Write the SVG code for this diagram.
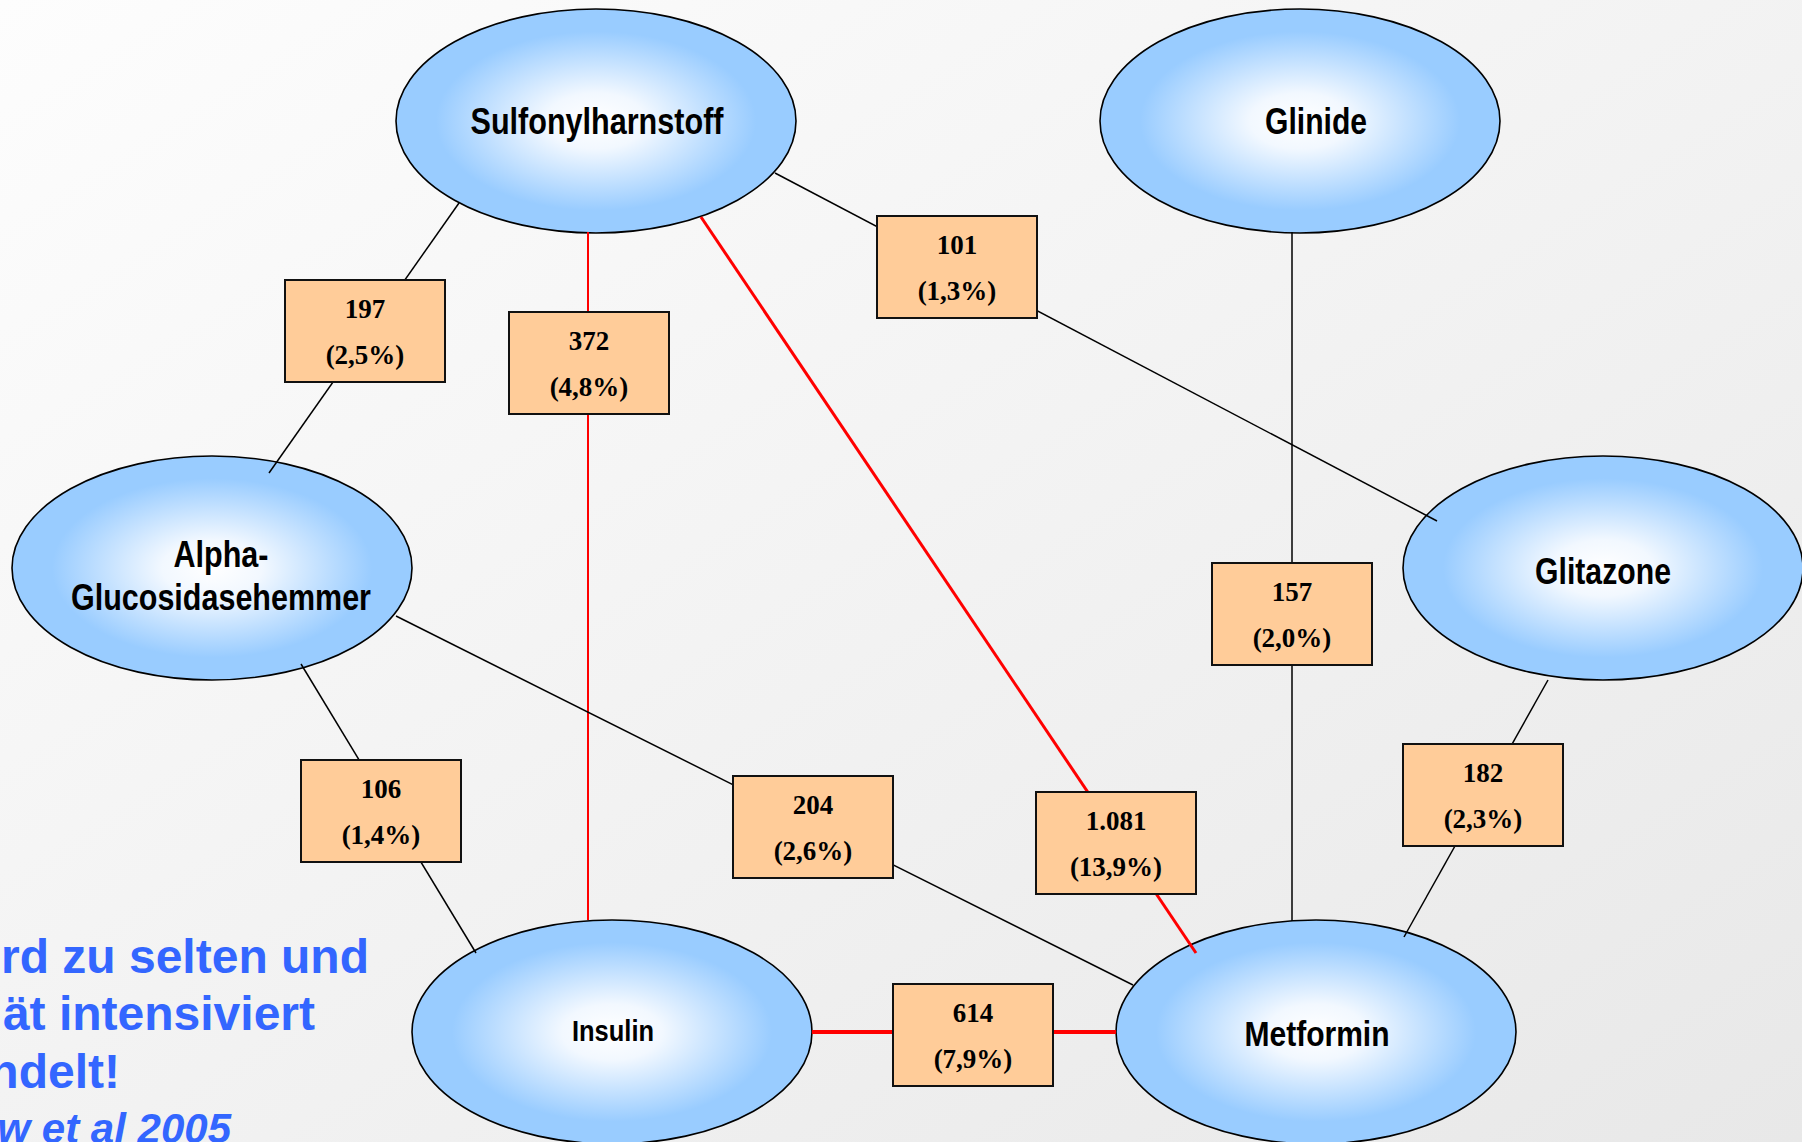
<svg xmlns="http://www.w3.org/2000/svg" width="1802" height="1142" viewBox="0 0 1802 1142">
<defs>
<linearGradient id="bg" x1="0" y1="0" x2="1" y2="1">
<stop offset="0" stop-color="#FDFDFD"/>
<stop offset="1" stop-color="#E8E8E8"/>
</linearGradient>
<radialGradient id="blob" cx="0.5" cy="0.5" r="0.5">
<stop offset="0" stop-color="#FFFFFF"/>
<stop offset="0.25" stop-color="#F2F8FF"/>
<stop offset="0.8" stop-color="#99CCFF"/>
<stop offset="1" stop-color="#99CCFF"/>
</radialGradient>
<style>
.node ellipse{fill:url(#blob);stroke:#000;stroke-width:1.6}
.lbl{font-family:"Liberation Sans",Arial,sans-serif;font-weight:bold;font-size:36px;fill:#000;text-anchor:middle}
.box rect{fill:#FFCC99;stroke:#111;stroke-width:2}
.num{font-family:"Liberation Serif","Times New Roman",serif;font-weight:bold;font-size:27px;fill:#000;text-anchor:middle}
.blk{stroke:#000;stroke-width:1.5;fill:none}
.red{stroke:#FF0000;fill:none}
.note{font-family:"Liberation Sans",Arial,sans-serif;font-weight:bold;font-size:48px;fill:#3366FF;text-anchor:end}
</style>
</defs>
<rect x="0" y="0" width="1802" height="1142" fill="url(#bg)"/>
<g id="node-sulfonylharnstoff" class="node">
<ellipse cx="596" cy="121" rx="200" ry="112"/>
<text class="lbl" x="597" y="134" textLength="253" lengthAdjust="spacingAndGlyphs">Sulfonylharnstoff</text>
</g>
<g id="node-glinide" class="node">
<ellipse cx="1300" cy="121" rx="200" ry="112"/>
<text class="lbl" x="1316" y="134" textLength="102" lengthAdjust="spacingAndGlyphs">Glinide</text>
</g>
<g id="node-alpha" class="node">
<ellipse cx="212" cy="568" rx="200" ry="112"/>
<text class="lbl" x="221" y="567" textLength="95" lengthAdjust="spacingAndGlyphs">Alpha-</text>
<text class="lbl" x="221" y="610" textLength="300" lengthAdjust="spacingAndGlyphs">Glucosidasehemmer</text>
</g>
<g id="node-glitazone" class="node">
<ellipse cx="1603" cy="568" rx="200" ry="112"/>
<text class="lbl" x="1603" y="584" textLength="136" lengthAdjust="spacingAndGlyphs">Glitazone</text>
</g>
<g id="node-insulin" class="node">
<ellipse cx="612" cy="1032" rx="200" ry="112"/>
<text class="lbl" x="613" y="1041" style="font-size:30px" textLength="82" lengthAdjust="spacingAndGlyphs">Insulin</text>
</g>
<g id="node-metformin" class="node">
<ellipse cx="1316" cy="1032" rx="200" ry="112"/>
<text class="lbl" x="1317" y="1046" style="font-size:35px" textLength="145" lengthAdjust="spacingAndGlyphs">Metformin</text>
</g>
<g id="connectors">
<line class="blk" x1="459" y1="203" x2="269" y2="473"/>
<line class="red" stroke-width="2" x1="588" y1="232" x2="588" y2="920"/>
<line class="red" stroke-width="3" x1="701" y1="217" x2="1196" y2="953"/>
<line class="blk" x1="775" y1="173" x2="1437" y2="521"/>
<line class="blk" x1="1292" y1="232" x2="1292" y2="921"/>
<line class="blk" x1="301" y1="664" x2="476" y2="953"/>
<line class="blk" x1="396" y1="616" x2="1133" y2="985"/>
<line class="blk" x1="1548" y1="680" x2="1404" y2="937"/>
<line class="red" stroke-width="4" x1="812" y1="1032" x2="1116" y2="1032"/>
</g>
<g id="box-197" class="box">
<rect x="285" y="280" width="160" height="102"/>
<text class="num" x="365" y="318">197</text>
<text class="num" x="365" y="364">(2,5%)</text>
</g>
<g id="box-372" class="box">
<rect x="509" y="312" width="160" height="102"/>
<text class="num" x="589" y="350">372</text>
<text class="num" x="589" y="396">(4,8%)</text>
</g>
<g id="box-101" class="box">
<rect x="877" y="216" width="160" height="102"/>
<text class="num" x="957" y="254">101</text>
<text class="num" x="957" y="300">(1,3%)</text>
</g>
<g id="box-157" class="box">
<rect x="1212" y="563" width="160" height="102"/>
<text class="num" x="1292" y="601">157</text>
<text class="num" x="1292" y="647">(2,0%)</text>
</g>
<g id="box-182" class="box">
<rect x="1403" y="744" width="160" height="102"/>
<text class="num" x="1483" y="782">182</text>
<text class="num" x="1483" y="828">(2,3%)</text>
</g>
<g id="box-1081" class="box">
<rect x="1036" y="792" width="160" height="102"/>
<text class="num" x="1116" y="830">1.081</text>
<text class="num" x="1116" y="876">(13,9%)</text>
</g>
<g id="box-614" class="box">
<rect x="893" y="984" width="160" height="102"/>
<text class="num" x="973" y="1022">614</text>
<text class="num" x="973" y="1068">(7,9%)</text>
</g>
<g id="box-106" class="box">
<rect x="301" y="760" width="160" height="102"/>
<text class="num" x="381" y="798">106</text>
<text class="num" x="381" y="844">(1,4%)</text>
</g>
<g id="box-204" class="box">
<rect x="733" y="776" width="160" height="102"/>
<text class="num" x="813" y="814">204</text>
<text class="num" x="813" y="860">(2,6%)</text>
</g>
<g id="note">
<text class="note" x="369" y="973">rd zu selten und</text>
<text class="note" x="315" y="1030">ät intensiviert</text>
<text class="note" x="120" y="1088">ndelt!</text>
<text class="note" x="231" y="1143" style="font-size:42px;font-style:italic">w et al 2005</text>
</g>
</svg>
